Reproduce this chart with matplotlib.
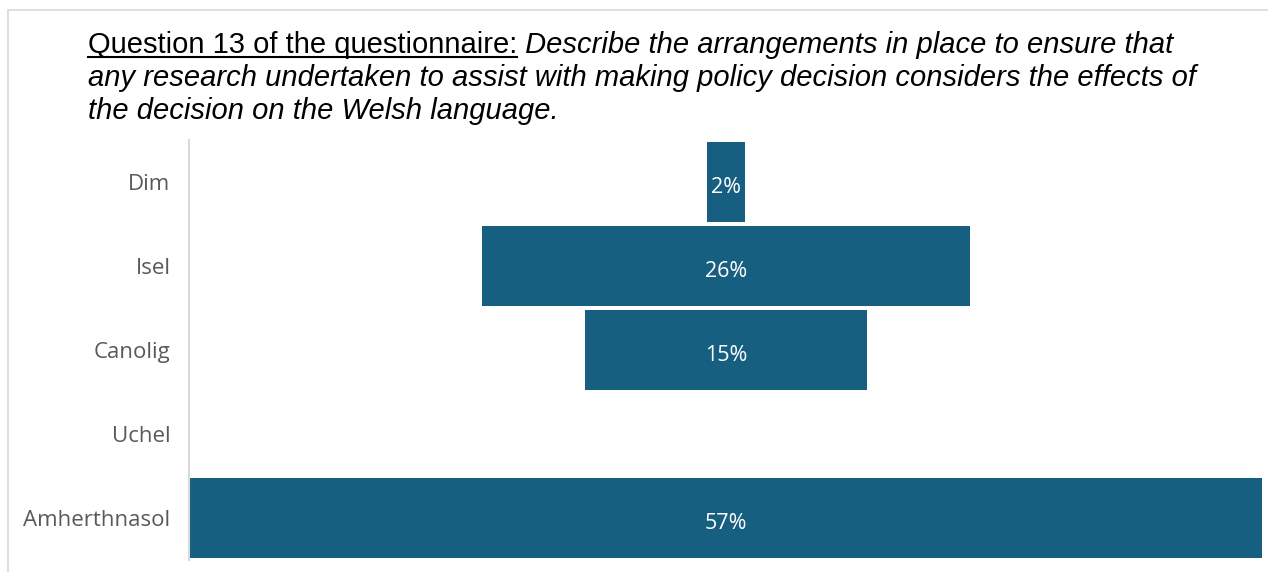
import matplotlib
matplotlib.use("Agg")
import matplotlib.pyplot as plt
from matplotlib.patches import Rectangle

categories = ["Dim", "Isel", "Canolig", "Uchel", "Amherthnasol"]
shares = [2, 26, 15, 0, 57]

bar_color = "#175F80"
label_color = "#595959"

W, H = 1268, 572
fig = plt.figure(figsize=(W / 100, H / 100), dpi=100)

# plot area in pixels (left, top, right, bottom)
x0, y0, x1, y1 = 190, 140, 1262, 560
ax = fig.add_axes([x0 / W, 1 - y1 / H, (x1 - x0) / W, (y1 - y0) / H])

# spines first: moving a spine resets the tick labels
for side in ["top", "right", "bottom"]:
    ax.spines[side].set_visible(False)
ax.spines["left"].set_color("#D9D9D9")
ax.spines["left"].set_linewidth(1.5)
ax.spines["left"].set_position(("outward", 1))

half = max(shares) / 2
ypos = list(range(len(categories)))
for y, v in zip(ypos, shares):
    if v > 0:
        ax.barh(y, v, left=-v / 2, height=0.95, color=bar_color)
        ax.annotate(f"{v}%", (0, y), xytext=(0, -8), textcoords="offset points",
                    ha="center", va="baseline", color="white",
                    fontsize=15.5, family="Open Sans")

ax.set_xlim(-half, half)
ax.set_ylim(len(categories) - 0.5, -0.5)
ax.set_xticks([])
ax.set_yticks(ypos)
ax.set_yticklabels(categories, fontsize=16, family="Open Sans", color=label_color)
ax.tick_params(axis="y", length=0, pad=13)

# outer frame
fig.add_artist(Rectangle((8 / W, -0.1), 1.2, 1 - 10 / H + 0.1, transform=fig.transFigure,
                         fill=False, edgecolor="#D9D9D9", linewidth=1.2))

# heading: underlined lead-in followed by italic question text
tsize = 21
tx = 88 / W
lead = fig.text(tx, 1 - 45 / H, "Question 13 of the questionnaire:", fontsize=tsize,
                family="Liberation Sans", va="center", color="black")
fig.canvas.draw()
bb = lead.get_window_extent()
fig.text(bb.x1 / W, 1 - 45 / H, " Describe the arrangements in place to ensure that",
         fontsize=tsize, family="Liberation Sans", style="italic", va="center")
uy = (H - 57) / H
fig.add_artist(plt.Line2D([bb.x0 / W, bb.x1 / W], [uy, uy], transform=fig.transFigure,
                          color="black", linewidth=1.5))
fig.text(tx, 1 - 78 / H,
         "any research undertaken to assist with making policy decision considers the effects of",
         fontsize=tsize, family="Liberation Sans", style="italic", va="center")
fig.text(tx, 1 - 111 / H, "the decision on the Welsh language.",
         fontsize=tsize, family="Liberation Sans", style="italic", va="center")

fig.savefig("out.png", dpi=100)
